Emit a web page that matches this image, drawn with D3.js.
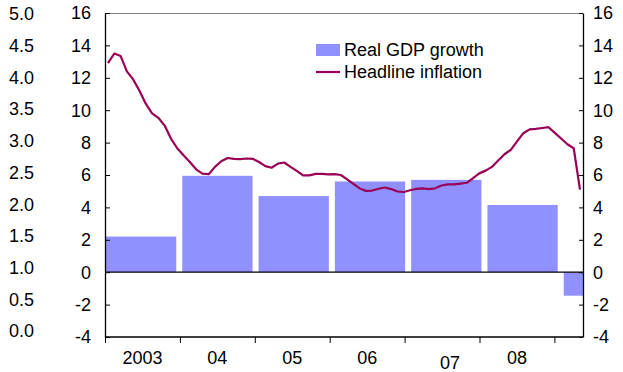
<!DOCTYPE html>
<html>
<head>
<meta charset="utf-8">
<script src="https://cdn.jsdelivr.net/npm/d3@7"></script>
<style>
  body { margin: 0; background: #fff; }
  svg { display: block; font-family: "Liberation Sans", Arial, sans-serif; }
</style>
</head>
<body>
<svg id="chart" width="623" height="372"></svg>
<script>
// annual real GDP growth (2009 = partial year)
var gdpYears = ["2003", "2004", "2005", "2006", "2007", "2008", "2009"];
var gdpGrowth = [2.2, 5.95, 4.7, 5.6, 5.7, 4.15, -1.45];

// headline inflation, monthly Jan 2003 .. Apr 2009
var inflation = [
    12.9, 13.5, 13.35, 12.4, 11.9, 11.2, 10.4, 9.8, 9.53, 9.05, 8.25, 7.65,
    7.22, 6.8, 6.35, 6.08, 6.05, 6.5, 6.85, 7.05, 7.0, 6.98, 7.02, 7.0,
    6.8, 6.55, 6.45, 6.7, 6.77, 6.5, 6.25, 5.98, 5.98, 6.07, 6.07, 6.04,
    6.05, 6.0, 5.73, 5.45, 5.17, 5.02, 5.04, 5.15, 5.23, 5.13, 4.98, 4.95,
    5.06, 5.14, 5.18, 5.13, 5.18, 5.35, 5.42, 5.42, 5.47, 5.52, 5.8, 6.1,
    6.27, 6.5, 6.9, 7.28, 7.55, 8.07, 8.58, 8.82, 8.85, 8.9, 8.95, 8.6,
    8.25, 7.9, 7.65, 5.1
];

var yTicks = [16, 14, 12, 10, 8, 6, 4, 2, 0, -2, -4];
var outerTicks = [5.0, 4.5, 4.0, 3.5, 3.0, 2.5, 2.0, 1.5, 1.0, 0.5, 0.0];
var yearTicks = [2003, 2004, 2005, 2006, 2007, 2008, 2009];
var yearLabels = ["2003", "04", "05", "06", "07", "08"];

var svg = d3.select("#chart");
var pLeft = 105, pRight = 583, pTop = 13, pBottom = 337;
var fs = 18;

var y = d3.scaleLinear().domain([-4, 16]).range([pBottom, pTop]);
var yOuter = d3.scaleLinear().domain([0, 5]).range([331, 14]);
var xYear = d3.scaleLinear().domain([2003, 2009]).range([pLeft, 554.4]);
var xBar = d3.scaleBand().domain(gdpYears).range([106, 634]).paddingInner(0.079).paddingOuter(0);
var months = d3.range(inflation.length);
var xMonth = d3.scalePoint().domain(months).range([108, 580]);

svg.append("clipPath").attr("id", "plotclip")
    .append("rect")
    .attr("x", pLeft).attr("y", pTop)
    .attr("width", pRight - pLeft).attr("height", pBottom - pTop);

// bars
svg.append("g").attr("clip-path", "url(#plotclip)")
    .selectAll("rect")
    .data(gdpGrowth)
    .join("rect")
    .attr("x", (d, i) => xBar(gdpYears[i]))
    .attr("width", xBar.bandwidth())
    .attr("y", d => y(Math.max(0, d)))
    .attr("height", d => Math.abs(y(d) - y(0)))
    .attr("fill", "#9090ff");

// zero line
svg.append("line")
    .attr("x1", pLeft).attr("x2", pRight)
    .attr("y1", y(0)).attr("y2", y(0))
    .attr("stroke", "#000").attr("stroke-width", 1.2);

// inflation line
var line = d3.line()
    .x((d, i) => xMonth(i))
    .y(d => y(d));
svg.append("path")
    .datum(inflation)
    .attr("d", line)
    .attr("fill", "none")
    .attr("stroke", "#990055")
    .attr("stroke-width", 2.2)
    .attr("stroke-linejoin", "round");

// top border
svg.append("line")
    .attr("x1", pLeft).attr("x2", pRight)
    .attr("y1", pTop + 0.5).attr("y2", pTop + 0.5)
    .attr("stroke", "#808080").attr("stroke-width", 1);

// left axis (ticks inside)
var gl = svg.append("g").attr("transform", "translate(" + pLeft + ",0)")
    .call(d3.axisRight(y).tickValues(yTicks).tickSize(5).tickSizeOuter(0).tickFormat(""));
gl.select(".domain").attr("stroke-width", 1.3);
svg.append("g").selectAll("text")
    .data(yTicks)
    .join("text")
    .attr("x", 91)
    .attr("y", d => y(d))
    .attr("dy", "0.35em")
    .attr("text-anchor", "end")
    .attr("font-size", fs)
    .text(d => d);

// outer left scale labels
svg.append("g").selectAll("text")
    .data(outerTicks)
    .join("text")
    .attr("x", 34)
    .attr("y", d => yOuter(d))
    .attr("dy", "0.35em")
    .attr("text-anchor", "end")
    .attr("font-size", fs)
    .text(d => d.toFixed(1));

// right axis (ticks inside)
var gr = svg.append("g").attr("transform", "translate(" + pRight + ",0)")
    .call(d3.axisLeft(y).tickValues(yTicks).tickSize(4).tickSizeOuter(0).tickFormat(""));
gr.select(".domain").attr("stroke-width", 1.3);
svg.append("g").selectAll("text")
    .data(yTicks)
    .join("text")
    .attr("x", 593)
    .attr("y", d => y(d))
    .attr("dy", "0.35em")
    .attr("text-anchor", "start")
    .attr("font-size", fs)
    .text(d => d);

// bottom axis
var gb = svg.append("g").attr("transform", "translate(0," + pBottom + ")")
    .call(d3.axisBottom(xYear).tickValues(yearTicks).tickSize(6).tickSizeOuter(0).tickFormat(""));
gb.select(".domain").attr("d", "M" + pLeft + ",0H" + pRight).attr("stroke-width", 1.3);
svg.append("g").selectAll("text")
    .data(yearLabels)
    .join("text")
    .attr("x", (d, i) => (xYear(yearTicks[i]) + xYear(yearTicks[i] + 1)) / 2 + (d === "07" ? 8 : 0))
    .attr("y", (d, i) => d === "07" ? 363 : 358)
    .attr("dy", "0.35em")
    .attr("text-anchor", "middle")
    .attr("font-size", fs)
    .text(d => d);

// legend
var lg = svg.append("g").attr("transform", "translate(316,44)");
lg.append("rect").attr("x", 0).attr("y", 0).attr("width", 24).attr("height", 12).attr("fill", "#9090ff");
lg.append("text").attr("x", 28).attr("y", 6).attr("dy", "0.35em").attr("font-size", fs).text("Real GDP growth");
lg.append("line").attr("x1", 0).attr("x2", 24).attr("y1", 28).attr("y2", 28)
    .attr("stroke", "#990055").attr("stroke-width", 2.2);
lg.append("text").attr("x", 28).attr("y", 28).attr("dy", "0.35em").attr("font-size", fs).text("Headline inflation");
</script>
</body>
</html>
